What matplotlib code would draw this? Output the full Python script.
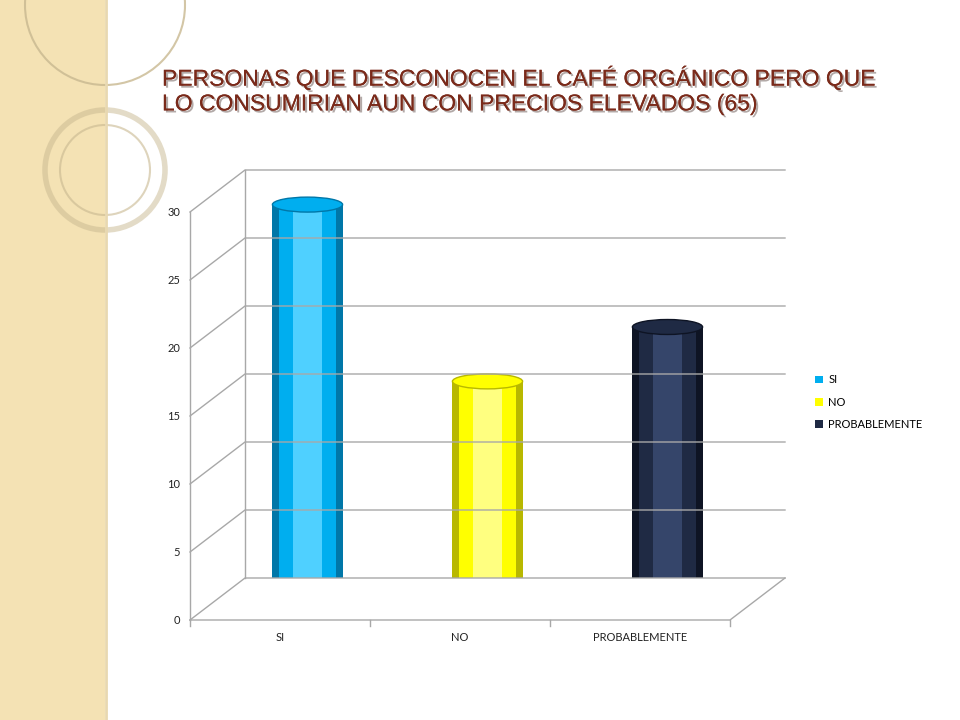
import matplotlib.pyplot as plt
import matplotlib.patheffects as pe
from matplotlib.lines import Line2D
from matplotlib.patches import Rectangle, Ellipse, Circle, Patch
from matplotlib.transforms import ScaledTranslation

categories = ["SI", "NO", "PROBABLEMENTE"]
values = [29, 16, 20]
yticks = [0, 5, 10, 15, 20, 25, 30]
colors = ["#00AEEF", "#FFFF00", "#1F2A44"]
dark = ["#0077A8", "#B8B800", "#0E1424"]
light = ["#4FD0FF", "#FFFF80", "#35456A"]

W, H = 960, 720
fig = plt.figure(figsize=(9.6, 7.2), dpi=100)
fig.patch.set_facecolor("white")

# decorative left strip
fig.add_artist(Rectangle((0, 0), 105 / W, 1, transform=fig.transFigure,
                         facecolor="#F4E2B4", edgecolor="none", zorder=0))
fig.add_artist(Line2D([106 / W, 106 / W], [0, 1], transform=fig.transFigure,
                      color="#E8D8B0", lw=2))
for cx, cy, r, lw, a in [(105, 5, 80, 1.5, 0.8), (105, 170, 60, 4, 0.5), (105, 170, 45, 1.5, 0.6)]:
    fig.add_artist(Circle((cx, H - cy), r, transform=None, fill=False,
                          edgecolor="#C8B890", alpha=a, lw=lw))

fig.text(162 / W, 1 - 90 / H, "PERSONAS QUE DESCONOCEN EL CAFÉ ORGÁNICO PERO QUE\n"
         "LO CONSUMIRIAN AUN CON PRECIOS ELEVADOS (65)",
         family="Liberation Sans", fontsize=16.5, color="#7A2A1A",
         va="center", linespacing=1.1,
         path_effects=[pe.withSimplePatchShadow(offset=(1.5, -1.5), alpha=0.35), pe.Normal()])

# back wall axes
ax = fig.add_axes([245 / W, 1 - 578 / H, 540 / W, 408 / H])
ax.set_xlim(-0.5, 2.5)
ax.set_ylim(0, 30)
ax.axis("off")

dx, dy = -55 / 100, -42 / 100  # front plane offset (inches)
front = ax.transData + ScaledTranslation(dx, dy, fig.dpi_scale_trans)
mid = ax.transData + ScaledTranslation(dx / 2, dy / 2, fig.dpi_scale_trans)
fig.canvas.draw()


def to_px(tr, x, y):
    return tr.transform((x, y))


grid = "#A8A8A8"
for v in yticks:
    b0 = to_px(ax.transData, -0.5, v)
    b1 = to_px(ax.transData, 2.5, v)
    f0 = to_px(front, -0.5, v)
    fig.add_artist(Line2D([f0[0], b0[0], b1[0]], [f0[1], b0[1], b1[1]],
                          transform=None, color=grid, lw=1))
    ax.text(-0.5, v, str(v), transform=front + ScaledTranslation(-0.1, 0, fig.dpi_scale_trans),
            ha="right", va="center", fontsize=8, family="Lato", color="#222222")
p = [to_px(front, -0.5, 0), to_px(front, -0.5, 30)]
fig.add_artist(Line2D([p[0][0], p[1][0]], [p[0][1], p[1][1]], transform=None, color=grid, lw=1))
p = [to_px(ax.transData, -0.5, 0), to_px(ax.transData, -0.5, 30)]
fig.add_artist(Line2D([p[0][0], p[1][0]], [p[0][1], p[1][1]], transform=None, color=grid, lw=1))
p = [to_px(front, -0.5, 0), to_px(front, 2.5, 0), to_px(ax.transData, 2.5, 0)]
fig.add_artist(Line2D([q[0] for q in p], [q[1] for q in p], transform=None, color=grid, lw=1))
for i in range(4):
    a = to_px(front, i - 0.5, 0)
    fig.add_artist(Line2D([a[0], a[0]], [a[1], a[1] - 6], transform=None, color=grid, lw=1))

for i, name in enumerate(categories):
    ax.text(i, 0, name, transform=front + ScaledTranslation(0, -0.12, fig.dpi_scale_trans),
            ha="center", va="top", fontsize=8, family="Lato", color="#222222")

# cylinders at mid depth
bw = 0.39
eh = 1.1
for i, v in enumerate(values):
    e = Ellipse((i, 0), bw, eh, facecolor=dark[i], zorder=2)
    ax.add_patch(e)
    e.set_transform(mid)
    for w, c in [(bw, dark[i]), (bw * 0.8, colors[i]), (bw * 0.4, light[i])]:
        for b in ax.bar(i, v, width=w, color=c, zorder=3):
            b.set_transform(mid)
    e = Ellipse((i, v), bw, eh, facecolor=colors[i], edgecolor=dark[i], lw=1, zorder=4)
    ax.add_patch(e)
    e.set_transform(mid)

handles = [Patch(facecolor=c) for c in colors]
fig.legend(handles, categories, loc="center left", bbox_to_anchor=(805 / W, 1 - 402 / H),
           frameon=False, prop={"family": "Lato", "size": 8}, handlelength=0.7,
           handleheight=0.7, labelspacing=1.0, handletextpad=0.5)

fig.savefig("out.png", dpi=100)
